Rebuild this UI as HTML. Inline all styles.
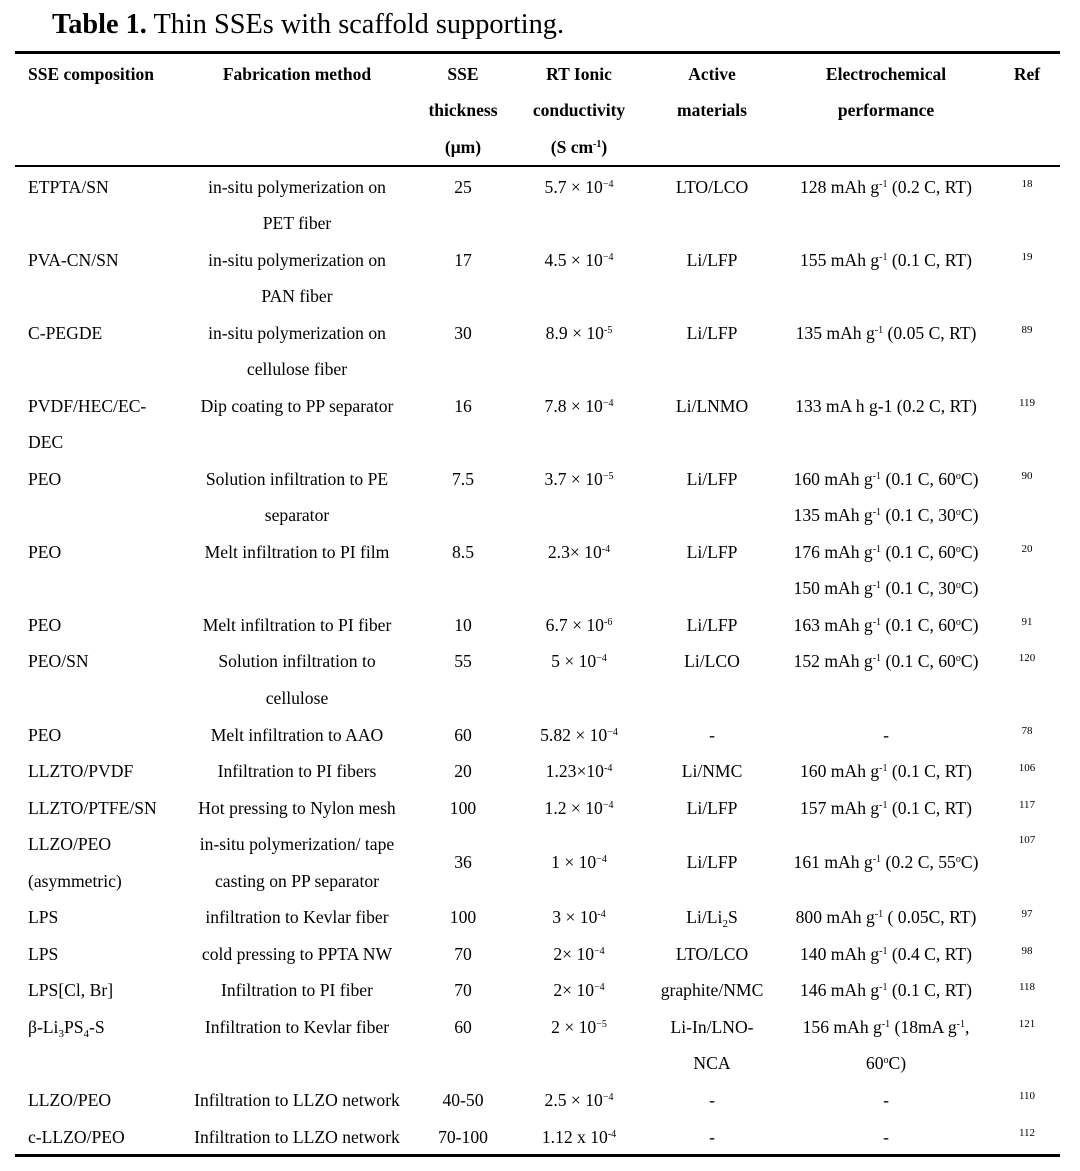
<!DOCTYPE html>
<html><head><meta charset="utf-8"><style>
html,body{margin:0;padding:0;background:#fff}
body{width:1080px;height:1171px;position:relative;overflow:hidden;font-family:"Liberation Serif",serif;color:#000}
.t{position:absolute;white-space:nowrap;line-height:20px;font-size:17.6px}
.c{transform:translateX(-50%)}
.b{font-weight:bold;font-size:17.5px}
.r{position:absolute;font-size:11px;line-height:12px;transform:translateX(-50%)}
.rule{position:absolute;left:15px;width:1045px;background:#000}
sup{font-size:10px;vertical-align:0;position:relative;top:-6px}
sub{font-size:11px;vertical-align:0;position:relative;top:4px}
</style></head><body>
<div class="t" style="left:52px;top:9px;font-size:28.3px;line-height:32px"><b>Table 1.</b> Thin SSEs with scaffold supporting.</div>
<div class="rule" style="top:51px;height:3px"></div>
<div class="rule" style="top:165px;height:2px"></div>
<div class="rule" style="top:1154px;height:3px"></div>

<div class="t b" style="left:28px;top:64px">SSE composition</div>
<div class="t b c" style="left:297px;top:64px">Fabrication method</div>
<div class="t b c" style="left:463px;top:64px">SSE</div>
<div class="t b c" style="left:463px;top:100px">thickness</div>
<div class="t b c" style="left:463px;top:137px">(μm)</div>
<div class="t b c" style="left:579px;top:64px">RT Ionic</div>
<div class="t b c" style="left:579px;top:100px">conductivity</div>
<div class="t b c" style="left:579px;top:137px">(S cm<sup>-1</sup>)</div>
<div class="t b c" style="left:712px;top:64px">Active</div>
<div class="t b c" style="left:712px;top:100px">materials</div>
<div class="t b c" style="left:886px;top:64px">Electrochemical</div>
<div class="t b c" style="left:886px;top:100px">performance</div>
<div class="t b c" style="left:1027px;top:64px">Ref</div>

<div class="t" style="left:28px;top:177px">ETPTA/SN</div>
<div class="t c" style="left:297px;top:177px">in-situ polymerization on</div>
<div class="t c" style="left:463px;top:177px">25</div>
<div class="t c" style="left:579px;top:177px">5.7 × 10<sup>−4</sup></div>
<div class="t c" style="left:712px;top:177px">LTO/LCO</div>
<div class="t c" style="left:886px;top:177px">128 mAh g<sup>-1</sup> (0.2 C, RT)</div>
<div class="r" style="left:1027px;top:178px">18</div>
<div class="t c" style="left:297px;top:213px">PET fiber</div>

<div class="t" style="left:28px;top:250px">PVA-CN/SN</div>
<div class="t c" style="left:297px;top:250px">in-situ polymerization on</div>
<div class="t c" style="left:463px;top:250px">17</div>
<div class="t c" style="left:579px;top:250px">4.5 × 10<sup>−4</sup></div>
<div class="t c" style="left:712px;top:250px">Li/LFP</div>
<div class="t c" style="left:886px;top:250px">155 mAh g<sup>-1</sup> (0.1 C, RT)</div>
<div class="r" style="left:1027px;top:251px">19</div>
<div class="t c" style="left:297px;top:286px">PAN fiber</div>

<div class="t" style="left:28px;top:323px">C-PEGDE</div>
<div class="t c" style="left:297px;top:323px">in-situ polymerization on</div>
<div class="t c" style="left:463px;top:323px">30</div>
<div class="t c" style="left:579px;top:323px">8.9 × 10<sup>-5</sup></div>
<div class="t c" style="left:712px;top:323px">Li/LFP</div>
<div class="t c" style="left:886px;top:323px">135 mAh g<sup>-1</sup> (0.05 C, RT)</div>
<div class="r" style="left:1027px;top:324px">89</div>
<div class="t c" style="left:297px;top:359px">cellulose fiber</div>

<div class="t" style="left:28px;top:396px">PVDF/HEC/EC-</div>
<div class="t c" style="left:297px;top:396px">Dip coating to PP separator</div>
<div class="t c" style="left:463px;top:396px">16</div>
<div class="t c" style="left:579px;top:396px">7.8 × 10<sup>−4</sup></div>
<div class="t c" style="left:712px;top:396px">Li/LNMO</div>
<div class="t c" style="left:886px;top:396px">133 mA h g-1 (0.2 C, RT)</div>
<div class="r" style="left:1027px;top:397px">119</div>
<div class="t" style="left:28px;top:432px">DEC</div>

<div class="t" style="left:28px;top:469px">PEO</div>
<div class="t c" style="left:297px;top:469px">Solution infiltration to PE</div>
<div class="t c" style="left:463px;top:469px">7.5</div>
<div class="t c" style="left:579px;top:469px">3.7 × 10<sup>−5</sup></div>
<div class="t c" style="left:712px;top:469px">Li/LFP</div>
<div class="t c" style="left:886px;top:469px">160 mAh g<sup>-1</sup> (0.1 C, 60<sup>o</sup>C)</div>
<div class="r" style="left:1027px;top:470px">90</div>
<div class="t c" style="left:297px;top:505px">separator</div>
<div class="t c" style="left:886px;top:505px">135 mAh g<sup>-1</sup> (0.1 C, 30<sup>o</sup>C)</div>

<div class="t" style="left:28px;top:542px">PEO</div>
<div class="t c" style="left:297px;top:542px">Melt infiltration to PI film</div>
<div class="t c" style="left:463px;top:542px">8.5</div>
<div class="t c" style="left:579px;top:542px">2.3× 10<sup>-4</sup></div>
<div class="t c" style="left:712px;top:542px">Li/LFP</div>
<div class="t c" style="left:886px;top:542px">176 mAh g<sup>-1</sup> (0.1 C, 60<sup>o</sup>C)</div>
<div class="r" style="left:1027px;top:543px">20</div>
<div class="t c" style="left:886px;top:578px">150 mAh g<sup>-1</sup> (0.1 C, 30<sup>o</sup>C)</div>

<div class="t" style="left:28px;top:615px">PEO</div>
<div class="t c" style="left:297px;top:615px">Melt infiltration to PI fiber</div>
<div class="t c" style="left:463px;top:615px">10</div>
<div class="t c" style="left:579px;top:615px">6.7 × 10<sup>-6</sup></div>
<div class="t c" style="left:712px;top:615px">Li/LFP</div>
<div class="t c" style="left:886px;top:615px">163 mAh g<sup>-1</sup> (0.1 C, 60<sup>o</sup>C)</div>
<div class="r" style="left:1027px;top:616px">91</div>

<div class="t" style="left:28px;top:651px">PEO/SN</div>
<div class="t c" style="left:297px;top:651px">Solution infiltration to</div>
<div class="t c" style="left:463px;top:651px">55</div>
<div class="t c" style="left:579px;top:651px">5 × 10<sup>−4</sup></div>
<div class="t c" style="left:712px;top:651px">Li/LCO</div>
<div class="t c" style="left:886px;top:651px">152 mAh g<sup>-1</sup> (0.1 C, 60<sup>o</sup>C)</div>
<div class="r" style="left:1027px;top:652px">120</div>
<div class="t c" style="left:297px;top:688px">cellulose</div>

<div class="t" style="left:28px;top:725px">PEO</div>
<div class="t c" style="left:297px;top:725px">Melt infiltration to AAO</div>
<div class="t c" style="left:463px;top:725px">60</div>
<div class="t c" style="left:579px;top:725px">5.82 × 10<sup>−4</sup></div>
<div class="t c" style="left:712px;top:725px">-</div>
<div class="t c" style="left:886px;top:725px">-</div>
<div class="r" style="left:1027px;top:725px">78</div>

<div class="t" style="left:28px;top:761px">LLZTO/PVDF</div>
<div class="t c" style="left:297px;top:761px">Infiltration to PI fibers</div>
<div class="t c" style="left:463px;top:761px">20</div>
<div class="t c" style="left:579px;top:761px">1.23×10<sup>-4</sup></div>
<div class="t c" style="left:712px;top:761px">Li/NMC</div>
<div class="t c" style="left:886px;top:761px">160 mAh g<sup>-1</sup> (0.1 C, RT)</div>
<div class="r" style="left:1027px;top:762px">106</div>

<div class="t" style="left:28px;top:798px">LLZTO/PTFE/SN</div>
<div class="t c" style="left:297px;top:798px">Hot pressing to Nylon mesh</div>
<div class="t c" style="left:463px;top:798px">100</div>
<div class="t c" style="left:579px;top:798px">1.2 × 10<sup>−4</sup></div>
<div class="t c" style="left:712px;top:798px">Li/LFP</div>
<div class="t c" style="left:886px;top:798px">157 mAh g<sup>-1</sup> (0.1 C, RT)</div>
<div class="r" style="left:1027px;top:799px">117</div>

<div class="t" style="left:28px;top:834px">LLZO/PEO</div>
<div class="t c" style="left:297px;top:834px">in-situ polymerization/ tape</div>
<div class="r" style="left:1027px;top:834px">107</div>
<div class="t c" style="left:463px;top:852px">36</div>
<div class="t c" style="left:579px;top:852px">1 × 10<sup>−4</sup></div>
<div class="t c" style="left:712px;top:852px">Li/LFP</div>
<div class="t c" style="left:886px;top:852px">161 mAh g<sup>-1</sup> (0.2 C, 55<sup>o</sup>C)</div>
<div class="t" style="left:28px;top:871px">(asymmetric)</div>
<div class="t c" style="left:297px;top:871px">casting on PP separator</div>

<div class="t" style="left:28px;top:907px">LPS</div>
<div class="t c" style="left:297px;top:907px">infiltration to Kevlar fiber</div>
<div class="t c" style="left:463px;top:907px">100</div>
<div class="t c" style="left:579px;top:907px">3 × 10<sup>-4</sup></div>
<div class="t c" style="left:712px;top:907px">Li/Li<sub>2</sub>S</div>
<div class="t c" style="left:886px;top:907px">800 mAh g<sup>-1</sup> ( 0.05C, RT)</div>
<div class="r" style="left:1027px;top:908px">97</div>

<div class="t" style="left:28px;top:944px">LPS</div>
<div class="t c" style="left:297px;top:944px">cold pressing to PPTA NW</div>
<div class="t c" style="left:463px;top:944px">70</div>
<div class="t c" style="left:579px;top:944px">2× 10<sup>−4</sup></div>
<div class="t c" style="left:712px;top:944px">LTO/LCO</div>
<div class="t c" style="left:886px;top:944px">140 mAh g<sup>-1</sup> (0.4 C, RT)</div>
<div class="r" style="left:1027px;top:945px">98</div>

<div class="t" style="left:28px;top:980px">LPS[Cl, Br]</div>
<div class="t c" style="left:297px;top:980px">Infiltration to PI fiber</div>
<div class="t c" style="left:463px;top:980px">70</div>
<div class="t c" style="left:579px;top:980px">2× 10<sup>−4</sup></div>
<div class="t c" style="left:712px;top:980px">graphite/NMC</div>
<div class="t c" style="left:886px;top:980px">146 mAh g<sup>-1</sup> (0.1 C, RT)</div>
<div class="r" style="left:1027px;top:981px">118</div>

<div class="t" style="left:28px;top:1017px">β-Li<sub>3</sub>PS<sub>4</sub>-S</div>
<div class="t c" style="left:297px;top:1017px">Infiltration to Kevlar fiber</div>
<div class="t c" style="left:463px;top:1017px">60</div>
<div class="t c" style="left:579px;top:1017px">2 × 10<sup>−5</sup></div>
<div class="t c" style="left:712px;top:1017px">Li-In/LNO-</div>
<div class="t c" style="left:886px;top:1017px">156 mAh g<sup>-1</sup> (18mA g<sup>-1</sup>,</div>
<div class="r" style="left:1027px;top:1018px">121</div>
<div class="t c" style="left:712px;top:1053px">NCA</div>
<div class="t c" style="left:886px;top:1053px">60<sup>o</sup>C)</div>

<div class="t" style="left:28px;top:1090px">LLZO/PEO</div>
<div class="t c" style="left:297px;top:1090px">Infiltration to LLZO network</div>
<div class="t c" style="left:463px;top:1090px">40-50</div>
<div class="t c" style="left:579px;top:1090px">2.5 × 10<sup>−4</sup></div>
<div class="t c" style="left:712px;top:1090px">-</div>
<div class="t c" style="left:886px;top:1090px">-</div>
<div class="r" style="left:1027px;top:1090px">110</div>

<div class="t" style="left:28px;top:1127px">c-LLZO/PEO</div>
<div class="t c" style="left:297px;top:1127px">Infiltration to LLZO network</div>
<div class="t c" style="left:463px;top:1127px">70-100</div>
<div class="t c" style="left:579px;top:1127px">1.12 x 10<sup>-4</sup></div>
<div class="t c" style="left:712px;top:1127px">-</div>
<div class="t c" style="left:886px;top:1127px">-</div>
<div class="r" style="left:1027px;top:1127px">112</div>
</body></html>
